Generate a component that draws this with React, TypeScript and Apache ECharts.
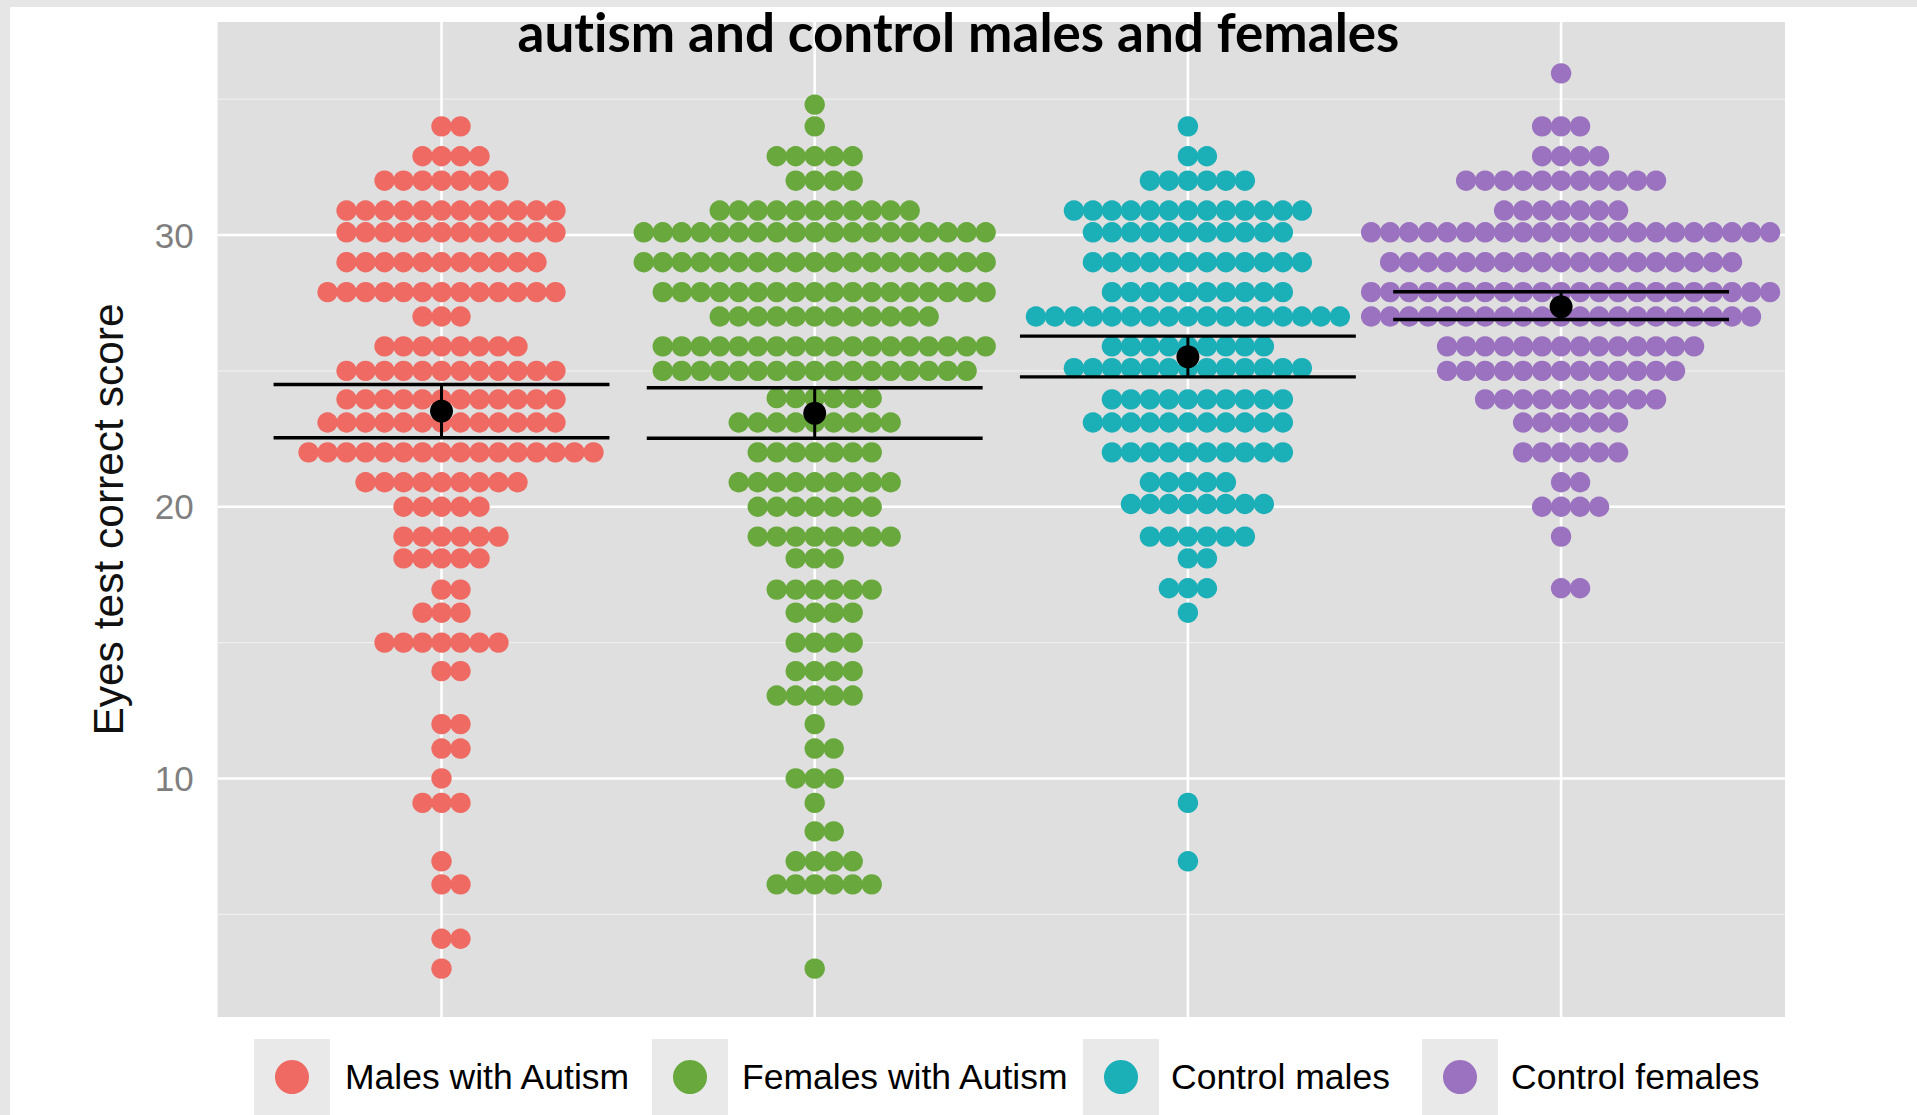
import React, { useEffect, useRef } from "react";
import * as echarts from "echarts";

// ---------- data ----------
const categories = ["Males with Autism", "Females with Autism", "Control males", "Control females"];
const groupColors = ["#ee6a62", "#68a83c", "#1bafb7", "#9b72c0"];

// dot rows: score level of each stacked row, and how many dots it holds
const malesAutismScores = [34, 32.9, 32, 30.9, 30.1, 29, 27.9, 27, 25.9, 25, 23.95, 23.1, 22, 20.9, 20, 18.9, 18.1, 16.95, 16.1, 15, 13.95, 12, 11.1, 10, 9.1, 6.95, 6.1, 4.1, 3];
const malesAutismCounts = [2, 4, 7, 12, 12, 11, 13, 3, 8, 12, 12, 13, 16, 9, 5, 6, 5, 2, 3, 7, 2, 2, 2, 1, 3, 1, 2, 2, 1];

const femalesAutismScores = [34.8, 34, 32.9, 32, 30.9, 30.1, 29, 27.9, 27, 25.9, 25, 24, 23.1, 22, 20.9, 20, 18.9, 18.1, 16.95, 16.1, 15, 13.95, 13.05, 12, 11.1, 10, 9.1, 8.05, 6.95, 6.1, 3];
const femalesAutismCounts = [1, 1, 5, 4, 11, 19, 19, 18, 12, 18, 17, 6, 9, 7, 9, 7, 8, 3, 6, 4, 4, 4, 5, 1, 2, 3, 1, 2, 4, 6, 1];

const controlMalesScores = [34, 32.9, 32, 30.9, 30.1, 29, 27.9, 27, 25.9, 25.1, 23.95, 23.1, 22, 20.9, 20.1, 18.9, 18.1, 17, 16.1, 9.1, 6.95];
const controlMalesCounts = [1, 2, 6, 13, 11, 12, 10, 17, 9, 13, 10, 11, 10, 5, 8, 6, 2, 3, 1, 1, 1];

const controlFemalesScores = [35.95, 34, 32.9, 32, 30.9, 30.1, 29, 27.9, 27, 25.9, 25, 23.95, 23.1, 22, 20.9, 20, 18.9, 17];
const controlFemalesCounts = [1, 3, 4, 11, 7, 22, 19, 22, 21, 14, 13, 10, 6, 6, 2, 4, 1, 2];

const groupScores = [malesAutismScores, femalesAutismScores, controlMalesScores, controlFemalesScores];
const groupCounts = [malesAutismCounts, femalesAutismCounts, controlMalesCounts, controlFemalesCounts];

// mean and interval per group
const means = [23.52, 23.44, 25.52, 27.36];
const ciLower = [22.54, 22.52, 24.78, 26.89];
const ciUpper = [24.5, 24.38, 26.28, 27.91];

// axis
const yMin = 1.22;
const yMax = 37.84;
const yMajorTicks = [10, 20, 30];
const yMinorTicks = [5, 15, 25, 35];
const xMin = -0.6;
const xMax = 3.6;

const TITLE = "autism and control males and females";
const Y_TITLE = "Eyes test correct score";

// ---------- layout / style constants ----------
const PANEL_LEFT = 217.6;
const PANEL_RIGHT = 1785;
const PANEL_TOP = 22;
const PANEL_BOTTOM = 1017;
const W = 1917;
const H = 1115;
const DOT_STEP = 0.0509; // x data units between dots of a row
const DOT_R = 10.2;
const HALF_BAR = 0.45;
const SANS = "'Liberation Sans', Arial, Helvetica, sans-serif";

const legendBoxX = [254, 652, 1083, 1422];
const legendTextX = [345, 742, 1171, 1511];

export default function App() {
  const ref = useRef<HTMLDivElement>(null);

  useEffect(() => {
    if (!ref.current) return;
    const chart = echarts.init(ref.current, null, { renderer: "svg" });

    const gridData: any[] = [];
    yMajorTicks.forEach((v) => gridData.push([0, v, 1]));
    yMinorTicks.forEach((v) => gridData.push([0, v, 0]));
    categories.forEach((_, i) => gridData.push([1, i, 1]));

    const dotSeries = categories.map((name, g) => ({
      type: "custom",
      name,
      z: 3,
      silent: true,
      data: groupScores[g].map((s, i) => [g, s, groupCounts[g][i]]),
      renderItem: (params: any, api: any) => {
        const gi = api.value(0);
        const score = api.value(1);
        const n = api.value(2);
        const c = api.coord([gi, score]);
        const step = api.size([DOT_STEP, 0])[0];
        const start = -Math.floor((n - 1) / 2);
        const children: any[] = [];
        for (let k = 0; k < n; k++) {
          children.push({
            type: "circle",
            shape: { cx: c[0] + (start + k) * step, cy: c[1], r: DOT_R },
            style: { fill: groupColors[g] },
          });
        }
        return { type: "group", children };
      },
    }));

    const option: any = {
      animation: false,
      backgroundColor: "#ffffff",
      title: {
        text: TITLE,
        left: "center",
        top: 0,
        textStyle: { fontFamily: "Lato, 'Open Sans', sans-serif", fontWeight: "bold", fontSize: 53, color: "#000" },
      },
      grid: {
        left: PANEL_LEFT,
        right: W - PANEL_RIGHT,
        top: PANEL_TOP,
        bottom: H - PANEL_BOTTOM,
        show: true,
        backgroundColor: "#dfdfdf",
        borderWidth: 0,
      },
      xAxis: {
        type: "value",
        min: xMin,
        max: xMax,
        axisLine: { show: false },
        axisTick: { show: false },
        axisLabel: { show: false },
        splitLine: { show: false },
      },
      yAxis: {
        type: "value",
        min: yMin,
        max: yMax,
        axisLine: { show: false },
        axisTick: { show: false },
        splitLine: { show: false },
        axisLabel: {
          customValues: yMajorTicks,
          margin: 24,
          color: "#7f7f7f",
          fontSize: 35,
          fontFamily: SANS,
          formatter: (v: number) => (yMajorTicks.indexOf(v) >= 0 ? String(v) : ""),
        },
        name: Y_TITLE,
        nameLocation: "middle",
        nameGap: 88,
        nameTextStyle: { fontFamily: SANS, fontSize: 42.5, color: "#111" },
      },
      series: [
        {
          type: "custom",
          name: "grid",
          z: 1,
          silent: true,
          data: gridData,
          renderItem: (params: any, api: any) => {
            const dir = api.value(0);
            const v = api.value(1);
            const major = api.value(2) === 1;
            let p1, p2;
            if (dir === 0) {
              p1 = api.coord([xMin, v]);
              p2 = api.coord([xMax, v]);
            } else {
              p1 = api.coord([v, yMin]);
              p2 = api.coord([v, yMax]);
            }
            return {
              type: "line",
              shape: { x1: p1[0], y1: p1[1], x2: p2[0], y2: p2[1] },
              style: { stroke: major ? "#ffffff" : "#efefef", lineWidth: major ? 2.6 : 1.3 },
            };
          },
        },
        ...dotSeries,
        {
          type: "custom",
          name: "mean",
          z: 5,
          silent: true,
          data: categories.map((_, g) => [g, means[g], ciLower[g], ciUpper[g]]),
          renderItem: (params: any, api: any) => {
            const g = api.value(0);
            const m = api.coord([g, api.value(1)]);
            const loL = api.coord([g - HALF_BAR, api.value(2)]);
            const loR = api.coord([g + HALF_BAR, api.value(2)]);
            const hiL = api.coord([g - HALF_BAR, api.value(3)]);
            const hiR = api.coord([g + HALF_BAR, api.value(3)]);
            const lineStyle = { stroke: "#000", lineWidth: 3.4 };
            return {
              type: "group",
              children: [
                { type: "line", shape: { x1: loL[0], y1: loL[1], x2: loR[0], y2: loR[1] }, style: lineStyle },
                { type: "line", shape: { x1: hiL[0], y1: hiL[1], x2: hiR[0], y2: hiR[1] }, style: lineStyle },
                { type: "line", shape: { x1: m[0], y1: loL[1], x2: m[0], y2: hiL[1] }, style: { stroke: "#000", lineWidth: 3 } },
                { type: "circle", shape: { cx: m[0], cy: m[1], r: 11.5 }, style: { fill: "#000" } },
              ],
            };
          },
        },
      ],
      graphic: [
        { type: "rect", shape: { x: 0, y: 0, width: 10, height: H }, style: { fill: "#e6e6e6" }, z: 100 },
        { type: "rect", shape: { x: 0, y: 0, width: W, height: 7 }, style: { fill: "#e6e6e6" }, z: 100 },
        ...categories.flatMap((name, i) => [
          { type: "rect", shape: { x: legendBoxX[i], y: 1039, width: 76, height: 80 }, style: { fill: "#e9e9e9" }, z: 10 },
          { type: "circle", shape: { cx: legendBoxX[i] + 38, cy: 1077, r: 17 }, style: { fill: groupColors[i] }, z: 11 },
          {
            type: "text",
            x: legendTextX[i],
            y: 1077,
            z: 11,
            style: { text: name, fill: "#000", font: `35.5px ${SANS}`, textVerticalAlign: "middle", textAlign: "left" },
          },
        ]),
      ],
    };

    chart.setOption(option);
    return () => chart.dispose();
  }, []);

  return (
    <>
      <style>{"#chart-root text{font-variant-ligatures:none !important;font-feature-settings:'liga' 0,'clig' 0 !important;}"}</style>
      <div id="chart-root" ref={ref} style={{ position: "absolute", left: 0, top: 0, width: W, height: H }} />
    </>
  );
}
